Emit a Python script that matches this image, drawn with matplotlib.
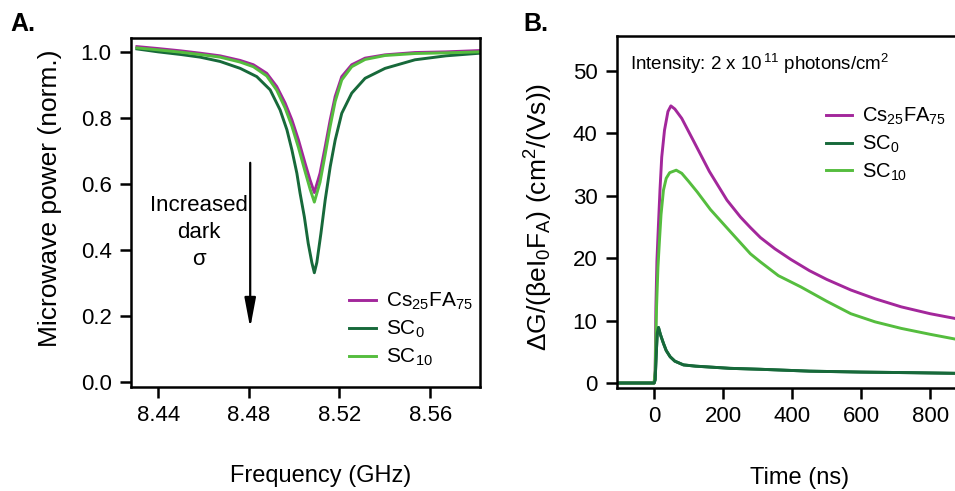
import matplotlib
matplotlib.use("Agg")
import matplotlib.pyplot as plt

# ---------------- data: panel A (microwave resonance) ----------------
freq_cs = [8.4306, 8.44, 8.45, 8.4585, 8.4673, 8.4762, 8.482, 8.4879, 8.4923, 8.496,
           8.499, 8.5019, 8.5048, 8.507, 8.5089, 8.5114, 8.5137, 8.5159, 8.5181, 8.521,
           8.5254, 8.5313, 8.5401, 8.5533, 8.567, 8.582]
pow_cs = [1.016, 1.010, 1.003, 0.996, 0.988, 0.974, 0.961, 0.935, 0.895, 0.845,
          0.794, 0.733, 0.663, 0.612, 0.574, 0.632, 0.713, 0.794, 0.865, 0.925,
          0.961, 0.981, 0.991, 0.998, 1.000, 1.004]

freq_sc10 = [8.4306, 8.44, 8.45, 8.4585, 8.4673, 8.4762, 8.482, 8.4879, 8.4923, 8.496,
             8.499, 8.5019, 8.5048, 8.507, 8.5089, 8.5114, 8.5137, 8.5159, 8.5181, 8.521,
             8.5254, 8.5313, 8.5401, 8.5533, 8.567, 8.582]
pow_sc10 = [1.012, 1.006, 0.999, 0.992, 0.984, 0.969, 0.955, 0.927, 0.884, 0.830,
            0.775, 0.710, 0.638, 0.585, 0.545, 0.605, 0.690, 0.775, 0.850, 0.915,
            0.955, 0.977, 0.989, 0.995, 0.997, 1.000]

freq_sc0 = [8.4306, 8.44, 8.45, 8.4585, 8.4673, 8.4762, 8.4835, 8.4894, 8.4938, 8.4968,
            8.499, 8.5012, 8.5026, 8.5045, 8.5062, 8.5078, 8.5089, 8.51, 8.5118, 8.5137,
            8.5159, 8.5181, 8.521, 8.5254, 8.5313, 8.5401, 8.5533, 8.567, 8.582]
pow_sc0 = [1.009, 1.000, 0.992, 0.984, 0.971, 0.950, 0.925, 0.885, 0.824, 0.764,
           0.703, 0.632, 0.572, 0.500, 0.420, 0.362, 0.331, 0.362, 0.450, 0.552,
           0.652, 0.733, 0.814, 0.875, 0.920, 0.950, 0.976, 0.988, 0.996]

freq_ticks = [8.44, 8.48, 8.52, 8.56]
pow_ticks = [0.0, 0.2, 0.4, 0.6, 0.8, 1.0]

# ---------------- data: panel B (TRMC transients) ----------------
t_cs = [-100, -50, 0, 3, 5, 8, 12.6, 17, 22, 30, 40, 48.5, 60, 80, 114, 160, 211, 250,
        279, 308, 350, 396, 450, 500, 570, 640, 716, 800, 876]
g_cs = [0, 0, 0, 2, 12.0, 19.5, 25.5, 31.0, 36.2, 40.5, 43.5, 44.4, 43.9, 42.4, 38.8,
        33.9, 29.3, 26.6, 24.9, 23.3, 21.5, 19.8, 18.0, 16.6, 14.9, 13.5, 12.2, 11.1, 10.3]

t_sc10 = [-100, -50, 0, 3, 7, 11, 15.5, 20, 27, 35, 45, 64, 80, 100, 125, 163, 220, 279,
          308, 360, 425, 500, 570, 640, 716, 800, 876]
g_sc10 = [0, 0, 0, 2, 12.2, 18.5, 22.9, 27.0, 30.9, 32.8, 33.7, 34.1, 33.6, 32.3, 30.6,
          27.8, 24.3, 20.7, 19.4, 17.2, 15.4, 13.1, 11.1, 9.8, 8.75, 7.8, 7.0]

t_sc0 = [-100, -50, 0, 3, 6, 9, 12.6, 18, 27, 35, 46.5, 60, 85, 120, 163, 220, 308, 450,
         600, 750, 876]
g_sc0 = [0, 0, 0, 0.5, 4.5, 8.0, 8.9, 7.8, 6.35, 5.2, 4.2, 3.5, 2.9, 2.7, 2.55, 2.35,
         2.2, 1.9, 1.75, 1.65, 1.55]

time_ticks = [0, 200, 400, 600, 800]
g_ticks = [0, 10, 20, 30, 40, 50]

labels = ['Cs$_{25}$FA$_{75}$', 'SC$_0$', 'SC$_{10}$']
colors = ['#a3279b', '#17693a', '#55bd3e']

# ---------------- style ----------------
base = 'Liberation Sans'
plt.rcParams['font.family'] = [base, 'DejaVu Sans']
plt.rcParams['mathtext.fontset'] = 'custom'
plt.rcParams['mathtext.rm'] = base
plt.rcParams['mathtext.it'] = base + ':italic'
plt.rcParams['mathtext.bf'] = base + ':bold'

fig = plt.figure(figsize=(9.55, 4.91), dpi=100)
W, H = 955, 491

def add_ax(l, t, r, b):
    return fig.add_axes([l / W, 1 - b / H, (r - l) / W, (b - t) / H])

def style(ax):
    for s in ax.spines.values():
        s.set_linewidth(1.8)
    ax.tick_params(direction='out', length=8, width=1.8, labelsize=16, pad=5)

LW = 2.1

# ---------------- panel A ----------------
axA = add_ax(131, 38, 480, 387)
axA.plot(freq_cs, pow_cs, color=colors[0], lw=LW, label=labels[0])
axA.plot(freq_sc0, pow_sc0, color=colors[1], lw=LW, label=labels[1])
axA.plot(freq_sc10, pow_sc10, color=colors[2], lw=LW, label=labels[2])
axA.set_xlim(8.428, 8.582)
axA.set_ylim(-0.015, 1.042)
axA.set_xticks(freq_ticks)
axA.set_xticklabels([f'{v:.2f}' for v in freq_ticks])
axA.set_yticks(pow_ticks)
axA.set_yticklabels([f'{v:.1f}' for v in pow_ticks])
style(axA)
axA.tick_params(axis='y', pad=6)
axA.set_ylabel('Microwave power (norm.)', fontsize=19)
axA.yaxis.set_label_coords(-0.197, 0.54)
fig.text(321 / W, 1 - 476 / H, 'Frequency (GHz)', fontsize=17, ha='center', va='center')
axA.legend(loc='lower right', bbox_to_anchor=(1.005, 0.03), frameon=False, fontsize=15,
           handlelength=1.3, handletextpad=0.5, labelspacing=0.32, borderaxespad=0.0)
axA.annotate('', xy=(8.4806, 0.164), xytext=(8.4806, 0.664),
             arrowprops=dict(arrowstyle='-|>,head_width=0.17,head_length=0.9',
                             color='black', lw=1.6, mutation_scale=20, shrinkA=0, shrinkB=0))
axA.text(8.4579, 0.452, 'Increased\ndark\nσ', ha='center', va='center', fontsize=16,
         linespacing=1.38)
fig.text(10 / W, 1 - 24 / H, 'A.', fontsize=18, fontweight='bold', va='center', ha='left')

# ---------------- panel B ----------------
axB = add_ax(617, 36, 962, 388)
axB.plot(t_cs, g_cs, color=colors[0], lw=LW, label=labels[0])
axB.plot(t_sc0, g_sc0, color=colors[1], lw=LW, label=labels[1])
axB.plot(t_sc10, g_sc10, color=colors[2], lw=LW, label=labels[2])
axB.plot(t_sc0, g_sc0, color=colors[1], lw=LW)
axB.set_xlim(-107.6, 892)
axB.set_ylim(-0.8, 55.6)
axB.set_xticks(time_ticks)
axB.set_yticks(g_ticks)
style(axB)
axB.tick_params(axis='y', pad=6)
axB.set_ylabel(r'ΔG/(βeI$_0$F$_\mathrm{A}$) (cm$^2$/(Vs))', fontsize=19)
axB.yaxis.set_label_coords(-0.18, 0.486)
fig.text(800 / W, 1 - 478 / H, 'Time (ns)', fontsize=17, ha='center', va='center')
fig.text(630 / W, 1 - 64 / H, 'Intensity: 2 x 10$^{\\,11}$ photons/cm$^2$', fontsize=13.5,
         ha='left', va='center')
axB.legend(loc='upper left', bbox_to_anchor=((818 - 617) / 345, 1 - (98 - 36) / 352),
           frameon=False, fontsize=14.5, handlelength=1.3, handletextpad=0.5,
           labelspacing=0.32, borderaxespad=0.0)
fig.text(523 / W, 1 - 24 / H, 'B.', fontsize=18, fontweight='bold', va='center', ha='left')

fig.savefig('out.png', dpi=100)
